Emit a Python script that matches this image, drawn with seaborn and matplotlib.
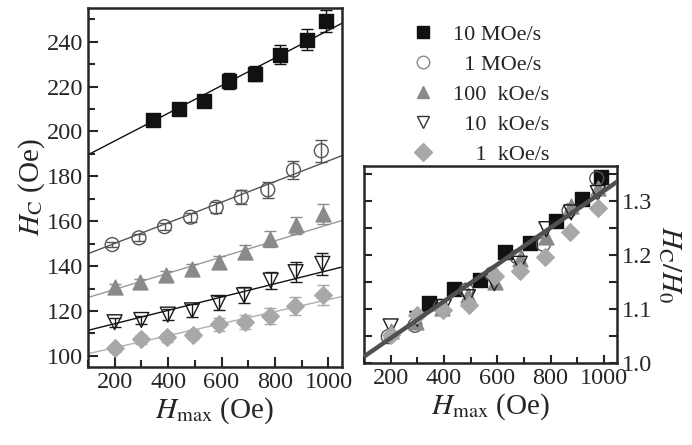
import numpy as np
import pandas as pd
import seaborn as sns
import matplotlib.pyplot as plt
from matplotlib.lines import Line2D
from matplotlib.ticker import MultipleLocator

sns.set_style("ticks")
plt.rcParams["font.family"] = ["Liberation Serif", "DejaVu Serif"]
plt.rcParams["mathtext.fontset"] = "stix"

# sweep rates
rates = ["10 MOe/s", "1 MOe/s", "100 kOe/s", "10 kOe/s", "1 kOe/s"]
legend_labels = ["10 MOe/s", "  1 MOe/s", "100  kOe/s", "  10  kOe/s", "    1  kOe/s"]

# H_max (Oe) for each series
hmax_10M = [342, 439, 535, 629, 724, 820, 918, 989]
hmax_1M = [191, 291, 387, 484, 580, 674, 773, 869, 973]
hmax_100k = [200, 295, 392, 490, 590, 686, 781, 877, 978]
hmax_10k = [200, 300, 399, 490, 589, 684, 784, 877, 977]
hmax_1k = [200, 297, 395, 493, 590, 686, 780, 874, 978]

# coercive field H_C (Oe)
hc_10M = [205.2, 209.8, 213.6, 222.5, 225.8, 234.1, 240.9, 249.2]
hc_1M = [149.6, 152.6, 157.6, 161.8, 166.2, 170.7, 174.0, 182.8, 191.4]
hc_100k = [130.7, 132.8, 135.9, 138.8, 141.8, 146.2, 152.2, 158.1, 163.3]
hc_10k = [115.0, 116.0, 118.4, 120.3, 123.6, 127.0, 133.6, 137.3, 141.0]
hc_1k = [103.3, 107.4, 108.4, 109.5, 114.0, 115.1, 117.8, 122.2, 127.0]

# error bars (Oe)
err_10M = [1.5, 1.5, 2.7, 3.7, 3.5, 4.2, 4.7, 4.8]
err_1M = [1.2, 1.5, 1.5, 2.0, 2.5, 3.0, 3.5, 4.0, 5.0]
err_100k = [1.5, 1.5, 2.0, 2.0, 2.5, 3.0, 3.5, 4.0, 4.5]
err_10k = [2.0, 2.0, 2.5, 3.0, 3.0, 3.5, 4.0, 4.5, 4.8]
err_1k = [1.5, 2.0, 2.0, 2.0, 3.0, 3.0, 3.5, 4.0, 4.5]

# normalised H_C / H_0
ratio_10M = [1.111, 1.137, 1.154, 1.206, 1.222, 1.264, 1.303, 1.345]
ratio_1M = [1.049, 1.070, 1.105, 1.135, 1.165, 1.197, 1.220, 1.282, 1.342]
ratio_100k = [1.060, 1.077, 1.102, 1.126, 1.150, 1.192, 1.234, 1.290, 1.324]
ratio_10k = [1.068, 1.082, 1.104, 1.122, 1.148, 1.184, 1.248, 1.279, 1.315]
ratio_1k = [1.052, 1.090, 1.098, 1.108, 1.162, 1.171, 1.197, 1.243, 1.288]

# linear fits: H_C = a + b * H_max
fit_a = [183.4, 140.9, 122.4, 108.4, 98.3]
fit_b = [0.0617, 0.0460, 0.0361, 0.0297, 0.0268]
ratio_fit_a = 0.978
ratio_fit_b = 0.000341

hmax_all = [hmax_10M, hmax_1M, hmax_100k, hmax_10k, hmax_1k]
hc_all = [hc_10M, hc_1M, hc_100k, hc_10k, hc_1k]
err_all = [err_10M, err_1M, err_100k, err_10k, err_1k]
ratio_all = [ratio_10M, ratio_1M, ratio_100k, ratio_10k, ratio_1k]

markers = ["s", "o", "^", "v", "D"]
colors = ["#111111", "#555555", "#8a8a8a", "#1a1a1a", "#a8a8a8"]
faces = ["#111111", "none", "#8a8a8a", "none", "#a8a8a8"]
line_colors = ["#111111", "#555555", "#9a9a9a", "#111111", "#b0b0b0"]
sizes = [90, 100, 115, 115, 80]

df = pd.concat([pd.DataFrame({"rate": r, "hmax": x, "hc": y, "err": e, "ratio": q})
                for r, x, y, e, q in zip(rates, hmax_all, hc_all, err_all, ratio_all)])

fig = plt.figure(figsize=(6.92, 4.45), dpi=100)
ax1 = fig.add_axes([0.127, 0.175, 0.367, 0.807])
ax2 = fig.add_axes([0.526, 0.184, 0.366, 0.443])

xfit = np.array([100, 1050])
for i, r in enumerate(rates):
    d = df[df["rate"] == r]
    sns.lineplot(x=xfit, y=fit_a[i] + fit_b[i] * xfit, ax=ax1, color=line_colors[i], lw=1.0, zorder=1)
    ax1.errorbar(d["hmax"], d["hc"], yerr=d["err"], fmt="none", ecolor=colors[i],
                 elinewidth=1.0, capsize=4, capthick=1.0, zorder=2)
    sns.scatterplot(data=d, x="hmax", y="ratio", ax=ax2, marker=markers[i], s=sizes[i],
                    facecolor=faces[i], edgecolor=colors[i], linewidth=1.0, zorder=2)
    sns.scatterplot(data=d, x="hmax", y="hc", ax=ax1, marker=markers[i], s=sizes[i],
                    facecolor=faces[i], edgecolor=colors[i], linewidth=1.0, zorder=3)

sns.lineplot(x=xfit, y=ratio_fit_a + ratio_fit_b * xfit, ax=ax2, color="#505050", lw=3.2, zorder=3)

ax1.set_xlim(100, 1050)
ax1.set_ylim(95, 255)
ax1.xaxis.set_major_locator(MultipleLocator(200))
ax1.xaxis.set_minor_locator(MultipleLocator(100))
ax1.yaxis.set_major_locator(MultipleLocator(20))
ax1.yaxis.set_minor_locator(MultipleLocator(10))
ax1.tick_params(which="both", direction="in", labelsize=17.5, width=1.5)
ax1.tick_params(which="major", length=7)
ax1.tick_params(which="minor", length=5)
ax1.set_xlabel(r"$H_{\rm max}$ (Oe)", fontsize=21, labelpad=2)
ax1.set_ylabel(r"$H_{\rm C}$ (Oe)", fontsize=21, labelpad=0)

ax2.set_xlim(100, 1050)
ax2.set_ylim(1.0, 1.365)
ax2.xaxis.set_major_locator(MultipleLocator(200))
ax2.xaxis.set_minor_locator(MultipleLocator(100))
ax2.yaxis.set_major_locator(MultipleLocator(0.1))
ax2.yaxis.set_minor_locator(MultipleLocator(0.05))
ax2.yaxis.set_major_formatter(lambda v, p: f"{v:.1f}")
ax2.tick_params(which="both", direction="in", labelsize=17.5, width=1.5,
                left=True, right=True, labelleft=False, labelright=True)
ax2.tick_params(which="major", length=6)
ax2.tick_params(which="minor", length=6)
ax2.tick_params(axis="x", which="minor", length=4)
ax2.yaxis.set_label_position("right")
ax2.set_xlabel(r"$H_{\rm max}$ (Oe)", fontsize=21, labelpad=2)
ax2.set_ylabel(r"$H_{\rm C}/H_0$", fontsize=21, rotation=270, labelpad=22)

for ax in (ax1, ax2):
    for s in ax.spines.values():
        s.set_linewidth(1.8)

handles = [Line2D([], [], ls="none", marker=m, markersize=9, markerfacecolor=f,
                  markeredgecolor=c, markeredgewidth=1.0)
           for m, f, c in zip(markers, faces, colors)]
handles[1].set_markeredgecolor("#888888")
handles[3].set_markeredgecolor("#333333")
fig.legend(handles, legend_labels, loc="upper left", bbox_to_anchor=(0.565, 0.99),
           frameon=False, fontsize=16, handlelength=1.1, handletextpad=0.8, labelspacing=0.42)

fig.savefig("out.png", dpi=100)
